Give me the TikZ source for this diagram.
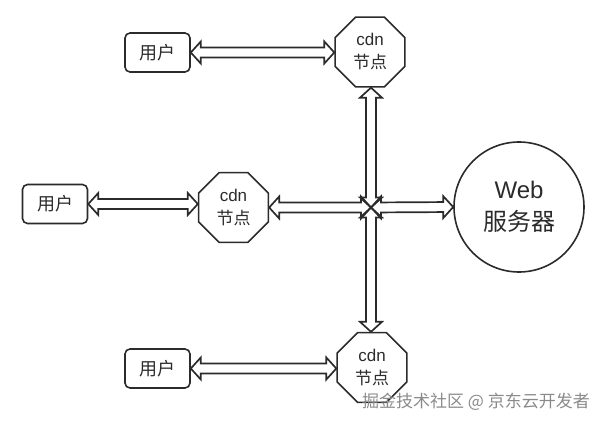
\documentclass[tikz,border=0pt]{standalone}
\usepackage{fontspec}
\setmainfont{Liberation Sans}
\newfontfamily\cjk{Noto Sans CJK SC}
\usetikzlibrary{shapes.geometric,calc}
\definecolor{ink}{HTML}{2B2B2B}
\definecolor{wm}{HTML}{8A8A8A}
\tikzset{
  userbox/.style={draw=ink, line width=1.6pt, rounded corners=5pt, minimum width=65pt, minimum height=39pt, inner sep=0pt, font=\fontsize{18}{22}\selectfont\cjk, text=ink},
  cdnnode/.style={draw=ink, line width=1.6pt, regular polygon, regular polygon sides=8, minimum size=75.5pt, inner sep=0pt, align=center, font=\fontsize{17}{23}\selectfont, text=ink},
  webnode/.style={draw=ink, line width=1.6pt, circle, minimum size=130pt, inner sep=0pt, align=center, font=\fontsize{24}{32}\selectfont, text=ink},
  flex/.style={draw=ink, line width=1.7pt, line join=miter, fill=none},
  watermark/.style={font=\fontsize{17}{20}\selectfont\cjk, text=wm}
}
\newcommand{\flexarrow}[2]{%
  \coordinate (fa1) at #1; \coordinate (fa2) at #2;
  \coordinate (fb1) at ($(fa1)!10pt!(fa2)$);
  \coordinate (fb2) at ($(fa2)!10pt!(fa1)$);
  \draw[flex] (fa1) -- ($(fb1)!11pt!90:(fa2)$) -- ($(fb1)!5pt!90:(fa2)$)
    -- ($(fb2)!5pt!-90:(fa1)$) -- ($(fb2)!11pt!-90:(fa1)$) -- (fa2)
    -- ($(fb2)!11pt!90:(fa1)$) -- ($(fb2)!5pt!90:(fa1)$)
    -- ($(fb1)!5pt!-90:(fa2)$) -- ($(fb1)!11pt!-90:(fa2)$) -- cycle;
}
\begin{document}
\begin{tikzpicture}[x=1pt,y=-1pt]
\useasboundingbox (0,0) rectangle (608,425);
% nodes
\node[userbox] (u1) at (157.5,52.5) {用户};
\node[userbox] (u2) at (55,204) {用户};
\node[userbox] (u3) at (157.5,368.5) {用户};
\node[cdnnode] (c1) at (370,52) {cdn\\{\cjk 节点}};
\node[cdnnode] (c2) at (233.5,207.5) {cdn\\{\cjk 节点}};
\node[cdnnode] (c3) at (372,367.5) {cdn\\{\cjk 节点}};
\node[webnode] (web) at (519,207) {Web\\{\cjk 服务器}};
\coordinate (x) at (371,207.5);
% connectors
\flexarrow{(u1.east)}{(c1.west |- u1.east)}
\flexarrow{(u2.east)}{(c2.west |- u2.east)}
\flexarrow{(u3.east)}{(c3.west |- u3.east)}
\flexarrow{(c2.east)}{(x)}
\flexarrow{(x)}{(web.west)}
\flexarrow{(c1.south -| x)}{(x)}
\flexarrow{(x)}{(c3.north -| x)}
% watermark
\node[watermark] (wmk) at (476,402) {掘金技术社区 @ 京东云开发者};
\end{tikzpicture}
\end{document}
